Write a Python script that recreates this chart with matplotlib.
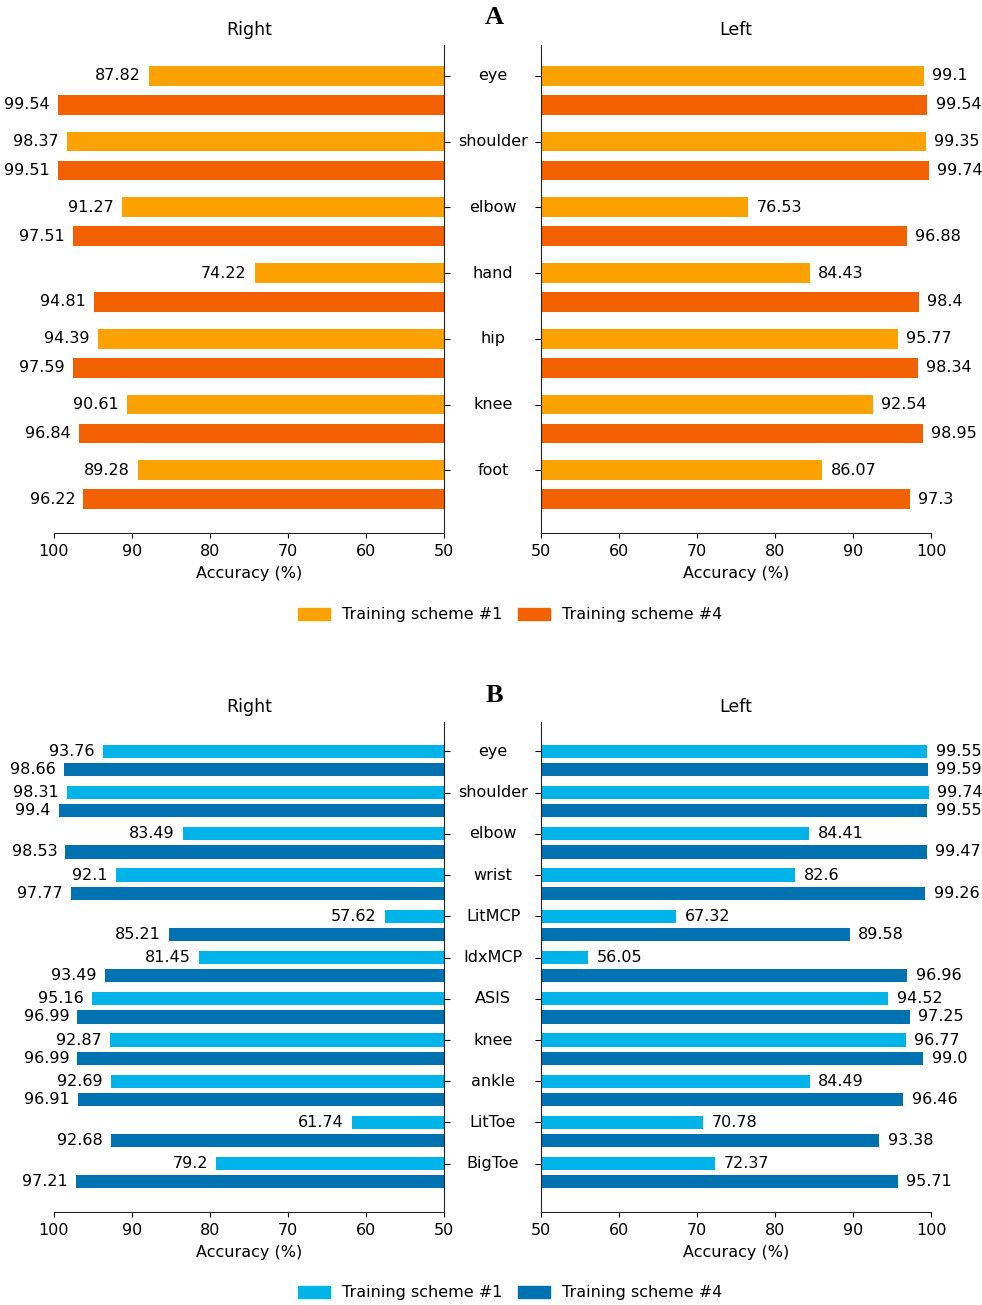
import numpy as np
import matplotlib
matplotlib.use("Agg")
import matplotlib.pyplot as plt
import matplotlib.transforms as mtransforms
from matplotlib.patches import Patch

plt.rcParams['font.family'] = 'DejaVu Sans'
plt.rcParams['font.size'] = 11.5

# panel A: joints, right / left side, training schemes #1 and #4
joints_a = ['eye', 'shoulder', 'elbow', 'hand', 'hip', 'knee', 'foot']
right_a_s1 = [87.82, 98.37, 91.27, 74.22, 94.39, 90.61, 89.28]
right_a_s4 = [99.54, 99.51, 97.51, 94.81, 97.59, 96.84, 96.22]
left_a_s1 = [99.1, 99.35, 76.53, 84.43, 95.77, 92.54, 86.07]
left_a_s4 = [99.54, 99.74, 96.88, 98.4, 98.34, 98.95, 97.3]

# panel B: landmarks
joints_b = ['eye', 'shoulder', 'elbow', 'wrist', 'LitMCP', 'IdxMCP',
            'ASIS', 'knee', 'ankle', 'LitToe', 'BigToe']
right_b_s1 = [93.76, 98.31, 83.49, 92.1, 57.62, 81.45, 95.16, 92.87, 92.69, 61.74, 79.2]
right_b_s4 = [98.66, 99.4, 98.53, 97.77, 85.21, 93.49, 96.99, 96.99, 96.91, 92.68, 97.21]
left_b_s1 = [99.55, 99.74, 84.41, 82.6, 67.32, 56.05, 94.52, 96.77, 84.49, 70.78, 72.37]
left_b_s4 = [99.59, 99.55, 99.47, 99.26, 89.58, 96.96, 97.25, 99.0, 96.46, 93.38, 95.71]

series_names = ['Training scheme #1', 'Training scheme #4']
orange = ['#fba200', '#f26000']
blue = ['#00b4e9', '#0072b2']

W, H = 982, 1305
fig = plt.figure(figsize=(W / 100, H / 100), dpi=100)


def px_axes(x0, x1, ytop, ybot):
    return fig.add_axes([x0 / W, 1 - ybot / H, (x1 - x0) / W, (ybot - ytop) / H])


def draw_panel(ytop, ybot, cats, r1, r4, l1, l4, colors, bar_h, top_pad, bot_pad,
               letter, letter_y, legend_y):
    ax_r = px_axes(54, 444, ytop, ybot)
    ax_l = px_axes(541, 931, ytop, ybot)
    y = np.arange(len(cats))
    off = 0.44
    for ax, v1, v4, side in [(ax_r, r1, r4, 'Right'), (ax_l, l1, l4, 'Left')]:
        b1 = ax.barh(y, v1, height=bar_h, color=colors[0])
        b4 = ax.barh(y + off, v4, height=bar_h, color=colors[1])
        ax.set_ylim(len(cats) - 1 + off + bot_pad, -top_pad)
        if side == 'Right':
            ax.set_xlim(100, 50)
            ax.spines[['top', 'left']].set_visible(False)
            ax.yaxis.tick_right()
        else:
            ax.set_xlim(50, 100)
            ax.spines[['top', 'right']].set_visible(False)
        ax.set_xticks([50, 60, 70, 80, 90, 100])
        ax.set_yticks(y)
        ax.set_yticklabels([])
        ax.tick_params(axis='y', length=4)
        ax.tick_params(axis='x', pad=4.5)
        for s in ax.spines.values():
            s.set_color('#222222')
        ax.set_xlabel('Accuracy (%)', labelpad=5)
        ax.set_title(side, fontsize=12.5, pad=7.5)
        ax.bar_label(b1, labels=[str(v) for v in v1], padding=6)
        ax.bar_label(b4, labels=[str(v) for v in v4], padding=6)
    trans = mtransforms.blended_transform_factory(fig.transFigure, ax_r.transData)
    for yi, c in zip(y, cats):
        fig.text(493 / W, yi, c, transform=trans, ha='center', va='center')
    fig.text(494 / W, 1 - letter_y / H, letter, ha='center', va='center',
             fontsize=19, fontweight='bold', family='Liberation Serif')
    handles = [Patch(color=colors[0]), Patch(color=colors[1])]
    fig.legend(handles, series_names, loc='center', ncol=2, frameon=False,
               bbox_to_anchor=(510 / W, 1 - legend_y / H), handlelength=2.0,
               handleheight=0.75, columnspacing=1.0, handletextpad=0.75)


draw_panel(45, 533, joints_a, right_a_s1, right_a_s4, left_a_s1, left_a_s4,
           orange, 0.3, 0.47, 0.515, 'A', 17, 615)
draw_panel(722, 1212, joints_b, right_b_s1, right_b_s4, left_b_s1, left_b_s4,
           blue, 0.32, 0.71, 0.73, 'B', 696, 1293)

fig.savefig('out.png', dpi=100)
